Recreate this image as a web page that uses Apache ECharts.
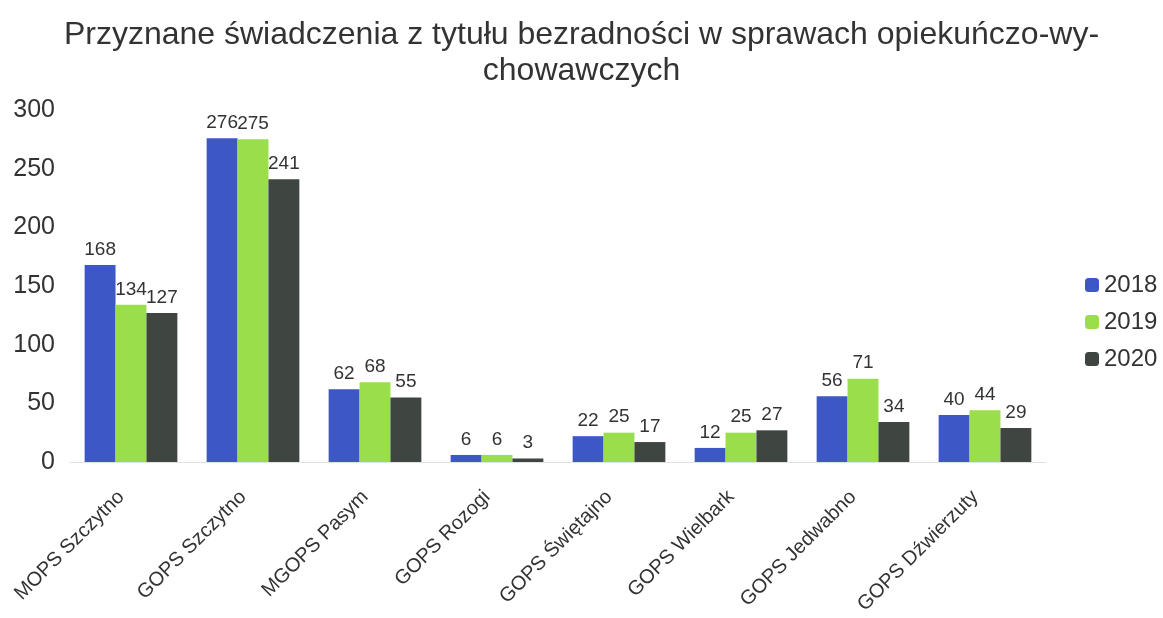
<!DOCTYPE html>
<html><head><meta charset="utf-8">
<script src="https://cdn.jsdelivr.net/npm/echarts@6/dist/echarts.min.js"></script>
<style>html,body{margin:0;padding:0;background:#fff}#c{width:1163px;height:618px}</style>
</head><body><div id="c"></div>
<script>
const categories = ["MOPS Szczytno","GOPS Szczytno","MGOPS Pasym","GOPS Rozogi","GOPS Świętajno","GOPS Wielbark","GOPS Jedwabno","GOPS Dźwierzuty"];
const years = ["2018","2019","2020"];
const v2018 = [168,276,62,6,22,12,56,40];
const v2019 = [134,275,68,6,25,25,71,44];
const v2020 = [127,241,55,3,17,27,34,29];
const colors = ["#3d57c6","#9ade4c","#3f4641"];
const font = "Liberation Sans, Arial, sans-serif";
const chart = echarts.init(document.getElementById('c'));
const mk = (name, data, color) => ({
  name, type:'bar', data, barGap:'0%', barCategoryGap:'24%',
  itemStyle:{color},
  label:{show:true, position:'top', distance:6, color:'#333', fontSize:19, fontFamily:font}
});
chart.setOption({
  animation:false,
  title:{text:"Przyznane świadczenia z tytułu bezradności w sprawach opiekuńczo-wy-\nchowawczych",
    left:'center', top:12, textStyle:{fontSize:32, fontWeight:'normal', color:'#333', fontFamily:font, lineHeight:36}},
  legend:{orient:'vertical', left:1080, top:268, itemWidth:14, itemHeight:14, itemGap:13,
    data:years, textStyle:{fontSize:24, color:'#333', fontFamily:font}},
  grid:{left:70, top:110, width:976, bottom:156},
  xAxis:{type:'category', data:categories,
    axisLine:{lineStyle:{color:'#e2e2e2'}}, axisTick:{show:false},
    axisLabel:{rotate:45, fontSize:20, color:'#333', fontFamily:font, interval:0, margin:22, padding:[0,14,0,0]}},
  yAxis:{type:'value', min:0, max:300, interval:50,
    axisLine:{show:false}, axisTick:{show:false}, splitLine:{show:false},
    axisLabel:{fontSize:25, color:'#333', fontFamily:font, margin:15}},
  series:[mk(years[0],v2018,colors[0]), mk(years[1],v2019,colors[1]), mk(years[2],v2020,colors[2])]
});
</script></body></html>
